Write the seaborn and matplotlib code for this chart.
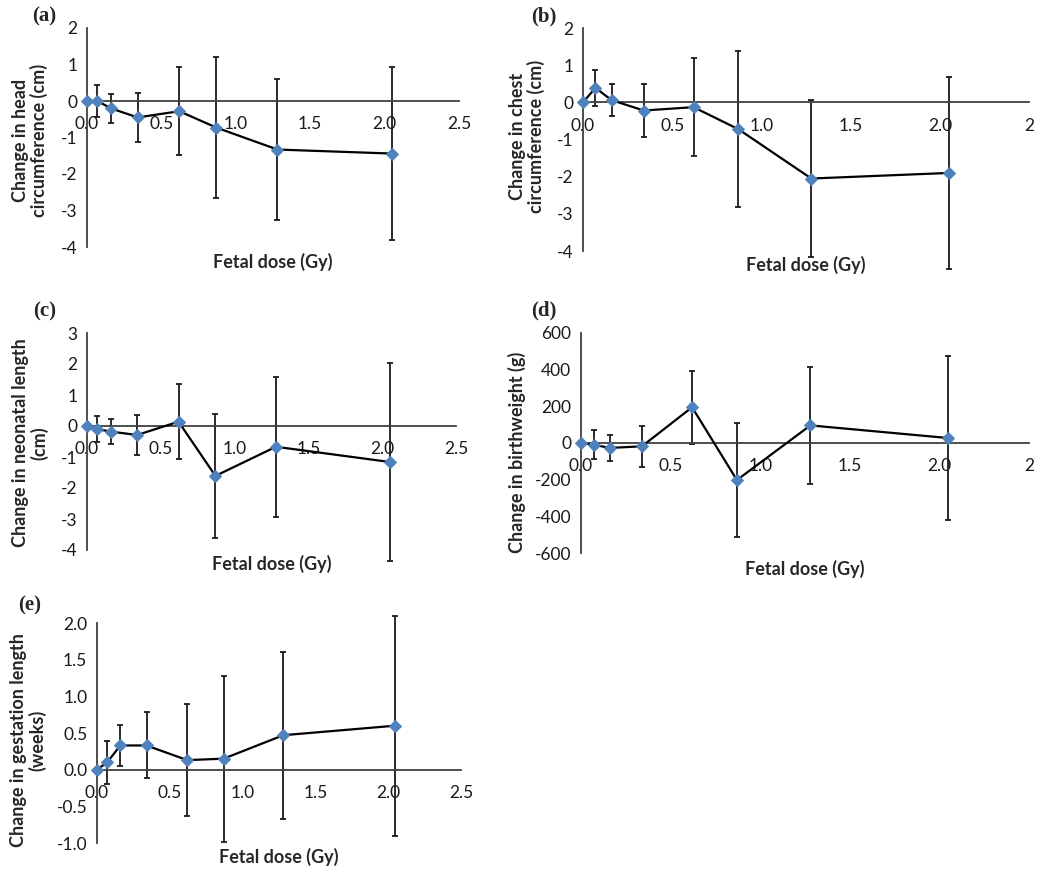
import numpy as np
import pandas as pd
import seaborn as sns
import matplotlib.pyplot as plt

# fetal dose groups (Gy), same for all panels
dose = [0.0, 0.07, 0.16, 0.34, 0.62, 0.87, 1.28, 2.05]

# (a) head circumference (cm)
head_mean = [0.0, 0.0, -0.2, -0.45, -0.28, -0.73, -1.33, -1.44]
head_err = [0.0, 0.44, 0.40, 0.67, 1.20, 1.93, 1.92, 2.38]

# (b) chest circumference (cm)
chest_mean = [0.0, 0.39, 0.06, -0.22, -0.13, -0.72, -2.05, -1.90]
chest_err = [0.0, 0.49, 0.44, 0.72, 1.31, 2.09, 2.10, 2.59]

# (c) neonatal length (cm)
length_mean = [0.0, -0.10, -0.18, -0.29, 0.14, -1.61, -0.67, -1.16]
length_err = [0.0, 0.42, 0.40, 0.64, 1.22, 2.00, 2.25, 3.20]

# (d) birthweight (g)
weight_mean = [0, -9, -27, -18, 195, -202, 96, 27]
weight_err = [0, 80, 73, 113, 200, 313, 317, 445]

# (e) gestation length (weeks)
gest_mean = [0.0, 0.10, 0.33, 0.33, 0.13, 0.15, 0.47, 0.60]
gest_err = [0.0, 0.29, 0.28, 0.45, 0.76, 1.13, 1.14, 1.50]

xticks = [0.0, 0.5, 1.0, 1.5, 2.0, 2.5]
xlab_normal = ['0.0', '0.5', '1.0', '1.5', '2.0', '2.5']
xlab_odd = ['0.0', '0.5', '1.0', '1.5', '2.0', '2']

sns.set_style("white")
plt.rcParams['font.family'] = ['Lato', 'DejaVu Sans']

W, H = 1050, 877
fig = plt.figure(figsize=(W / 100, H / 100), dpi=100)

blue = '#4F81BD'
spine_col = '#404040'


def panel(box, mean, err, ylim, yticks, ytl, xtl, ylabel, ylab_pos, xlab_off, letter, letter_pos):
    left, top, right, bottom = box
    ax = fig.add_axes([left / W, 1 - bottom / H, (right - left) / W, (bottom - top) / H])
    w, h = right - left, bottom - top
    df = pd.DataFrame({'dose': dose, 'mean': mean, 'err': err})
    ax.errorbar(df['dose'], df['mean'], yerr=df['err'], fmt='none', ecolor='#1a1a1a',
                elinewidth=1.3, capsize=2.5, capthick=1.3, clip_on=False, zorder=2)
    sns.lineplot(data=df, x='dose', y='mean', ax=ax, color='black', linewidth=1.6,
                 marker='D', markersize=6, markerfacecolor=blue, markeredgecolor=blue,
                 clip_on=False, zorder=3)
    ax.set_xlim(0, 2.5)
    ax.set_ylim(*ylim)
    ax.spines['top'].set_visible(False)
    ax.spines['right'].set_visible(False)
    ax.spines['bottom'].set_position(('data', 0))
    for s in ['left', 'bottom']:
        ax.spines[s].set_color(spine_col)
        ax.spines[s].set_linewidth(1.3)
    ax.set_xticks(xticks)
    ax.set_xticklabels(xtl)
    ax.set_yticks(yticks)
    ax.set_yticklabels(ytl)
    ax.tick_params(axis='x', direction='in', length=4, width=1.2, color=spine_col,
                   pad=11, labelsize=12.5, labelcolor='#1a1a1a')
    ax.tick_params(axis='y', direction='out', length=4, width=1.2, color=spine_col,
                   pad=3, labelsize=12.5, labelcolor='#1a1a1a')
    ax.set_xlabel('Fetal dose (Gy)', fontsize=13, fontweight='bold')
    ax.xaxis.set_label_coords(0.5, -xlab_off / h)
    ax.set_ylabel(ylabel, fontsize=13, fontweight='bold', linespacing=1.05)
    ax.yaxis.set_label_coords((ylab_pos[0] - left) / w, (bottom - ylab_pos[1]) / h)
    ax.grid(False)
    fig.text(letter_pos[0] / W, 1 - letter_pos[1] / H, letter, family='Liberation Serif',
             fontweight='bold', fontsize=15, ha='left', va='top')
    return ax


panel((87, 28, 459, 247), head_mean, head_err, (-4, 2), [-4, -3, -2, -1, 0, 1, 2],
      ['-4', '-3', '-2', '-1', '0', '1', '2'], xlab_normal,
      'Change in head\ncircumference (cm)', (48, 140), 6, '(a)', (32, 6))

panel((583, 28, 1029, 251), chest_mean, chest_err, (-4, 2), [-4, -3, -2, -1, 0, 1, 2],
      ['-4', '-3', '-2', '-1', '0', '1', '2'], xlab_odd,
      'Change in chest\ncircumference (cm)', (545, 136), 5, '(b)', (531, 6))

panel((87, 333, 456, 550), length_mean, length_err, (-4, 3), [-4, -3, -2, -1, 0, 1, 2, 3],
      ['-4', '-3', '-2', '-1', '0', '1', '2', '3'], xlab_normal,
      'Change in neonatal length\n(cm)', (48, 443), 5, '(c)', (33, 301))

panel((581, 333, 1029, 553), weight_mean, weight_err, (-600, 600),
      [-600, -400, -200, 0, 200, 400, 600],
      ['-600', '-400', '-200', '0', '200', '400', '600'], xlab_odd,
      'Change in birthweight (g)', (526, 452), 7, '(d)', (531, 300))

panel((97, 623, 461, 843), gest_mean, gest_err, (-1.0, 2.0),
      [-1.0, -0.5, 0.0, 0.5, 1.0, 1.5, 2.0],
      ['-1.0', '-0.5', '0.0', '0.5', '1.0', '1.5', '2.0'], xlab_normal,
      'Change in gestation length\n(weeks)', (46, 740), 5, '(e)', (18, 595))

plt.savefig('out.png', dpi=100)
